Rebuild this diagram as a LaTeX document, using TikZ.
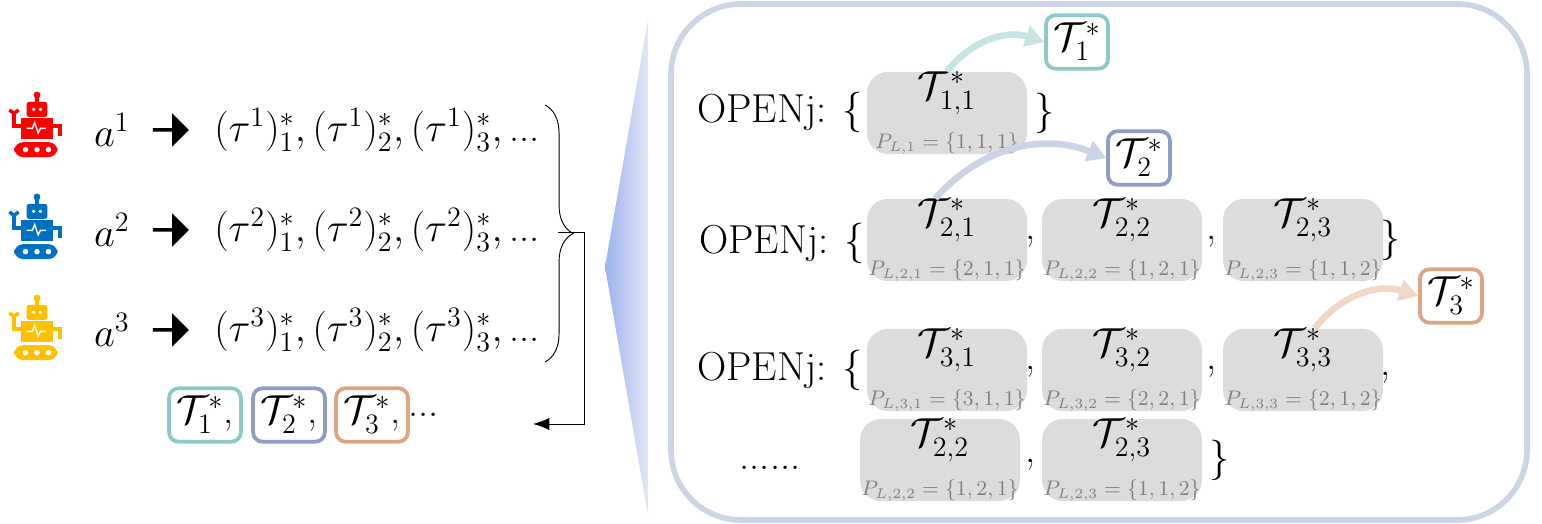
\documentclass[tikz,border=0pt]{standalone}
\usepackage{amsmath}
\usetikzlibrary{positioning, arrows.meta, decorations.pathreplacing, shapes.arrows}

\definecolor{tealc}{HTML}{8ECAC4}
\definecolor{bluec}{HTML}{8E9DC6}
\definecolor{orangec}{HTML}{DFA583}
\definecolor{framec}{HTML}{CDD5E5}
\definecolor{cellc}{HTML}{DCDCDC}
\definecolor{wedgel}{HTML}{9CB2EC}
\definecolor{wedger}{HTML}{E2E7F7}
\definecolor{robotb}{HTML}{0070C0}
\definecolor{roboty}{HTML}{FFC000}

\newcommand{\cellt}[3]{{\LARGE$\mathcal{T}^*_{#1}$}\\[-1pt]{\small\color{gray}$P_{L,#2}=\{#3\}$}}

\tikzset{
  cell/.style={fill=cellc, rounded corners=9pt, minimum width=2.4cm, minimum height=1.12cm, align=center, inner sep=0pt},
  best/.style={draw=#1, line width=1.6pt, rounded corners=4pt, fill=white, minimum width=0.93cm, minimum height=0.8cm, inner sep=3pt},
  pick/.style={-{Triangle[length=8pt,width=9pt]}, line width=2.8pt, draw=#1, bend left=35},
  robot/.pic={
    \fill (-2,6) rectangle (2,0);
    \fill (0,0) circle (3);
    \fill[rounded corners=1pt] (-9,6) rectangle (9,19);
    \fill[white] (-3,12.5) circle (1.6) (3,12.5) circle (1.6);
    \fill (-14,20) rectangle (14,38);
    \draw[white, line width=0.6pt] (-9,29) -- (-4,29) -- (-2,24) -- (1,33) -- (3,29) -- (8,29);
    \draw[line width=1.8pt] (-14,27) -- (-20,27) -- (-20,16);
    \draw[line width=1.5pt] (-24,13) -- (-20,16) -- (-16,13);
    \draw[line width=1.8pt] (14,27) -- (20,27) -- (20,36);
    \fill[rounded corners=4pt] (-20,41) rectangle (18,54);
    \fill[white] (-10,47.5) circle (2.4) (0,47.5) circle (2.4) (10,47.5) circle (2.4);
  }
}

\begin{document}
\begin{tikzpicture}[x=0.015cm, y=-0.015cm, font=\LARGE]
  \useasboundingbox (0,0) rectangle (1542,524);

  % zoom wedge and frame
  \shade[left color=wedgel, right color=wedger] (605,267) -- (648,20) -- (648,515) -- cycle;
  \draw[framec, line width=2.4pt, rounded corners=1.05cm] (671,4) rectangle (1527,520);

  % agents and their paths
  \pic[red, scale=1.15] at (37,95) {robot};
  \pic[robotb, scale=1.15] at (37,197) {robot};
  \pic[roboty, scale=1.15] at (37,298) {robot};
  \foreach \k/\y in {1/130, 2/230, 3/330} {
    \node (a\k) at (112,\y) {$a^{\k}$};
    \node[single arrow, fill=black, inner sep=0pt, minimum height=0.54cm, minimum width=0.5cm, single arrow head extend=0.06cm] (arr\k) at (170,\y) {};
    \node[anchor=west] (seq\k) at (206,\y) {$(\tau^{\k})^*_1, (\tau^{\k})^*_2, (\tau^{\k})^*_3,\,$...};
  }
  \draw[decorate, decoration={brace, amplitude=12pt}] (545,105) -- (545,362);
  \coordinate (tip) at (558,232);
  \coordinate (back) at (533,424);
  \draw[-{Latex[length=7pt]}] (tip) -- (584,232) |- (back);

  \node[best=tealc] (b1) at (205,415) {$\mathcal{T}^*_1$,};
  \node[best=bluec] (b2) at (289,415) {$\mathcal{T}^*_2$,};
  \node[best=orangec] (b3) at (372,415) {$\mathcal{T}^*_3$,};
  \node[right=-4pt of b3] (bdots) {...};

  % open lists
  \node (o1) at (780,112) {OPENj: $\{$};
  \node (o2) at (782,243) {OPENj: $\{$};
  \node (o3) at (780,370) {OPENj: $\{$};
  \node (o4) at (770,468) {......};

  \node[cell] (c11) at (947,113) {\cellt{1,1}{1}{1,1,1}};
  \node[cell] (c21) at (947,240) {\cellt{2,1}{2,1}{2,1,1}};
  \node[cell] (c22) at (1122,240) {\cellt{2,2}{2,2}{1,2,1}};
  \node[cell] (c23) at (1303,240) {\cellt{2,3}{2,3}{1,1,2}};
  \node[cell] (c31) at (947,370) {\cellt{3,1}{3,1}{3,1,1}};
  \node[cell] (c32) at (1122,370) {\cellt{3,2}{3,2}{2,2,1}};
  \node[cell] (c33) at (1303,370) {\cellt{3,3}{3,3}{2,1,2}};
  \node[cell] (c42) at (940,460) {\cellt{2,2}{2,2}{1,2,1}};
  \node[cell] (c43) at (1122,460) {\cellt{2,3}{2,3}{1,1,2}};

  \node at (1045,113) {$\}$};
  \foreach \r in {2,3} {
    \node at (1031,\r*130-18) {,};
    \node at (1212,\r*130-18) {,};
  }
  \node at (1391,240) {$\}$};
  \node at (1386,378) {,};
  \node at (1031,465) {,};
  \node at (1220,460) {$\}$};

  % best paths
  \node[best=tealc] (t1) at (1077,42) {$\mathcal{T}^*_1$};
  \node[best=bluec] (t2) at (1139,158) {$\mathcal{T}^*_2$};
  \node[best=orangec] (t3) at (1451,296) {$\mathcal{T}^*_3$};
  \draw[pick=tealc!50] (c11.north) to (t1.west);
  \draw[pick=bluec!45] ([xshift=-5pt]c21.north) to (t2.west);
  \draw[pick=orangec!45] ([xshift=5pt]c33.north) to (t3.west);
\end{tikzpicture}
\end{document}
